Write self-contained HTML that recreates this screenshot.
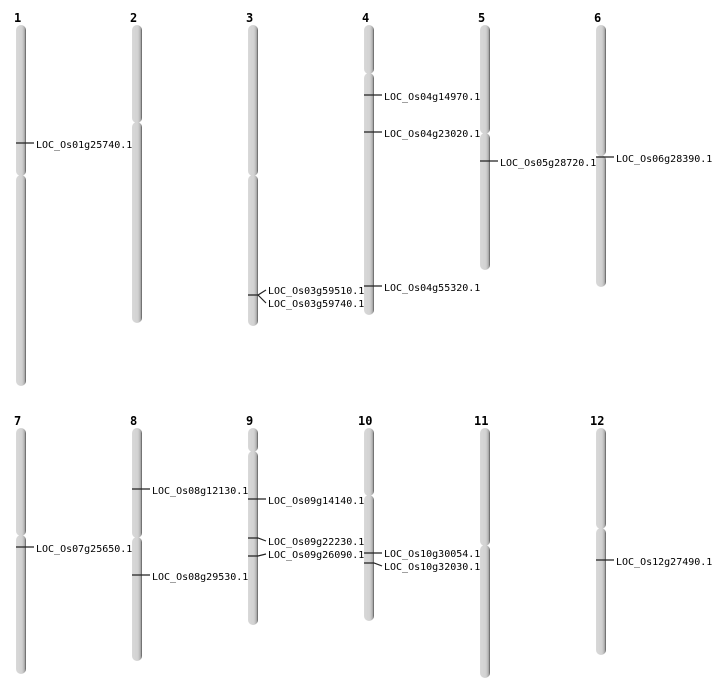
<!DOCTYPE html>
<html><head><meta charset="utf-8"><style>body{margin:0;background:#fff}svg{display:block}</style></head><body>
<svg width="712" height="700" xmlns="http://www.w3.org/2000/svg" font-family="DejaVu Sans Mono, monospace" font-size="10">
<defs><linearGradient id="g" x1="0" x2="1" y1="0" y2="0">
<stop offset="0" stop-color="#d8d8d8"/><stop offset="0.6" stop-color="#d2d2d2"/><stop offset="0.85" stop-color="#b0b0b0"/><stop offset="1" stop-color="#555"/></linearGradient></defs>
<g font-weight="bold" font-size="12">
<text x="14" y="22">1</text><text x="130" y="22">2</text><text x="246" y="22">3</text><text x="362" y="22">4</text><text x="478" y="22">5</text><text x="594" y="22">6</text>
<text x="14" y="425">7</text><text x="130" y="425">8</text><text x="246" y="425">9</text><text x="358" y="425">10</text><text x="474" y="425">11</text><text x="590" y="425">12</text>
</g>
<g fill="url(#g)">
<rect x="16" y="25" width="10" height="151" rx="5"/><rect x="16" y="175" width="10" height="211" rx="5"/>
<rect x="132" y="25" width="10" height="98" rx="5"/><rect x="132" y="122" width="10" height="201" rx="5"/>
<rect x="248" y="25" width="10" height="151" rx="5"/><rect x="248" y="175" width="10" height="151" rx="5"/>
<rect x="364" y="25" width="10" height="49" rx="5"/><rect x="364" y="73" width="10" height="242" rx="5"/>
<rect x="480" y="25" width="10" height="109" rx="5"/><rect x="480" y="133" width="10" height="137" rx="5"/>
<rect x="596" y="25" width="10" height="131" rx="5"/><rect x="596" y="155" width="10" height="132" rx="5"/>
<rect x="16" y="428" width="10" height="108" rx="5"/><rect x="16" y="535" width="10" height="139" rx="5"/>
<rect x="132" y="428" width="10" height="110" rx="5"/><rect x="132" y="537" width="10" height="124" rx="5"/>
<rect x="248" y="428" width="10" height="24" rx="5"/><rect x="248" y="451" width="10" height="174" rx="5"/>
<rect x="364" y="428" width="10" height="68" rx="5"/><rect x="364" y="495" width="10" height="126" rx="5"/>
<rect x="480" y="428" width="10" height="118" rx="5"/><rect x="480" y="545" width="10" height="133" rx="5"/>
<rect x="596" y="428" width="10" height="101" rx="5"/><rect x="596" y="528" width="10" height="127" rx="5"/>
</g>
<g stroke="#222" stroke-width="1.2" fill="none">
<path d="M16 143H34"/>
<path d="M248 295H258L266 290M258 295L266 303"/>
<path d="M364 95H382M364 132H382M364 286H382"/>
<path d="M480 161H498"/>
<path d="M596 157H614"/>
<path d="M16 547H34"/>
<path d="M132 489H150M132 575H150"/>
<path d="M248 499H266M248 538H258L266 541M248 556H258L266 554"/>
<path d="M364 553H382M364 563H374L382 566"/>
<path d="M596 560H614"/>
</g>
<g fill="#000">
<text x="36" y="148">LOC_Os01g25740.1</text>
<text x="268" y="294">LOC_Os03g59510.1</text><text x="268" y="307">LOC_Os03g59740.1</text>
<text x="384" y="100">LOC_Os04g14970.1</text><text x="384" y="137">LOC_Os04g23020.1</text><text x="384" y="291">LOC_Os04g55320.1</text>
<text x="500" y="166">LOC_Os05g28720.1</text>
<text x="616" y="162">LOC_Os06g28390.1</text>
<text x="36" y="552">LOC_Os07g25650.1</text>
<text x="152" y="494">LOC_Os08g12130.1</text><text x="152" y="580">LOC_Os08g29530.1</text>
<text x="268" y="504">LOC_Os09g14140.1</text><text x="268" y="545">LOC_Os09g22230.1</text><text x="268" y="558">LOC_Os09g26090.1</text>
<text x="384" y="557">LOC_Os10g30054.1</text><text x="384" y="570">LOC_Os10g32030.1</text>
<text x="616" y="565">LOC_Os12g27490.1</text>
</g>
</svg>
</body></html>
